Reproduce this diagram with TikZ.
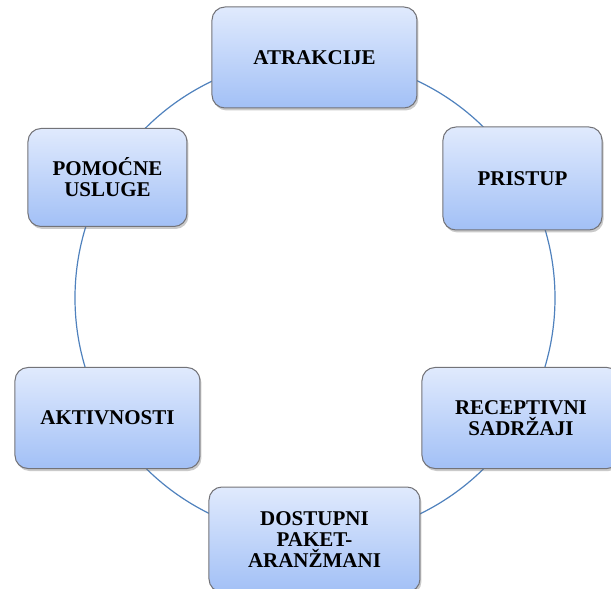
\documentclass[tikz,border=0pt]{standalone}
\usepackage{fontspec}
\setmainfont{Liberation Serif}
\usepackage{xcolor}
\usetikzlibrary{shadows}

\definecolor{krug}{RGB}{79,129,189}
\definecolor{okvir}{RGB}{115,115,120}
\definecolor{svijetla}{RGB}{224,234,253}
\definecolor{tamna}{RGB}{162,192,246}

\begin{document}
\begin{tikzpicture}[x=1pt, y=1pt,
  kutija/.style={draw=okvir, line width=1pt, rounded corners=13pt,
    top color=svijetla, bottom color=tamna,
    minimum height=101pt, align=center,
    font=\fontsize{21}{21}\selectfont\bfseries,
    drop shadow={shadow xshift=1.5pt, shadow yshift=-2.5pt, opacity=0.35, fill=black!60}}]
  % page size of the original figure
  \useasboundingbox (-315,-291) rectangle (296,298);

  % the ring behind the boxes
  \coordinate (c) at (0,0);
  \draw[krug, line width=1.2pt] (c) circle (240pt);

  % the six boxes around the ring
  \node[kutija, minimum width=205pt] (atrakcije) at (-0.5,240.5) {ATRAKCIJE};
  \node[kutija, minimum width=159pt, minimum height=103pt] (pristup) at (207.5,119.5) {PRISTUP};
  \node[kutija, minimum width=198pt] (receptivni) at (206,-120) {RECEPTIVNI\\SADRŽAJI};
  \node[kutija, minimum width=211pt, minimum height=105pt] (dostupni) at (-0.5,-241.5) {DOSTUPNI\\PAKET-\\ARANŽMANI};
  \node[kutija, minimum width=185pt] (aktivnosti) at (-207.5,-120) {AKTIVNOSTI};
  \node[kutija, minimum width=159pt, minimum height=98pt] (pomocne) at (-207.5,120.5) {POMOĆNE\\USLUGE};
\end{tikzpicture}
\end{document}
